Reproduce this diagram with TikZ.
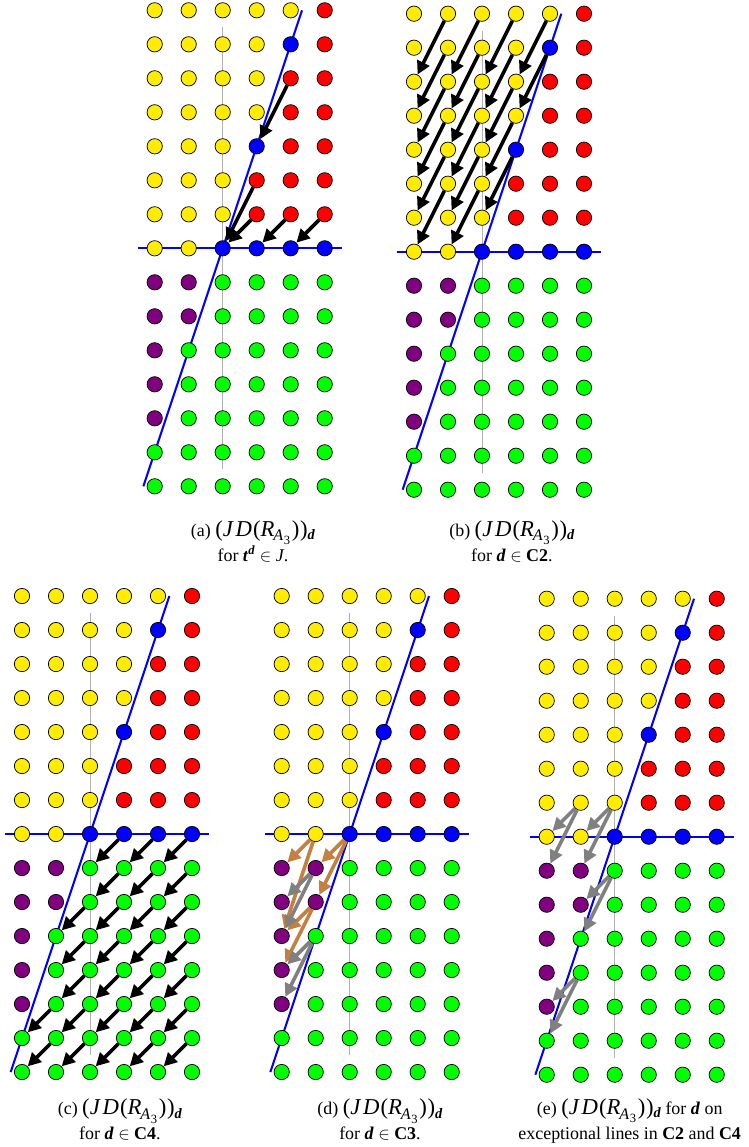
\documentclass[tikz,border=0pt]{standalone}
\usepackage{fontspec}
\setmainfont{Liberation Serif}
\usetikzlibrary{arrows.meta}

\definecolor{dotyellow}{RGB}{255,236,0}
\definecolor{dotred}{RGB}{255,0,0}
\definecolor{dotblue}{RGB}{0,0,255}
\definecolor{dotgreen}{RGB}{0,255,0}
\definecolor{dotpurple}{RGB}{128,0,128}
\definecolor{arrbrown}{RGB}{196,128,64}
\definecolor{arrgray}{RGB}{128,128,128}

\newcommand{\bid}[1]{\textbf{\textit{#1}}}
\newcommand{\jdr}{{\fontsize{19}{19}\selectfont(\textit{J}\kern1.5pt\textit{D}\kern1pt(\textit{R}\kern-1pt\raisebox{-4pt}{\fontsize{13.5}{13.5}\selectfont\textit{A}\kern0.5pt\raisebox{-3pt}{\fontsize{10.5}{10.5}\selectfont 3}}\kern1.5pt)\kern0.5pt)}\raisebox{-3pt}{\fontsize{12}{12}\selectfont\bid{d}}}

\tikzset{
  dot/.style={circle,draw=black,line width=0.6pt,minimum size=0.45cm,inner sep=0pt},
  midline/.style={gray!60,line width=0.8pt},
  blueline/.style={dotblue,line width=1.7pt},
  maparrow/.style={line width=3pt,-{Triangle[length=11pt,width=11pt]}},
  caption/.style={align=center,font=\fontsize{15}{21}\selectfont}
}

\newcommand{\latgrid}[1]{%
  \draw[midline] (0,-6.5)--(0,6.5);
  \draw[blueline] (-2.5,0)--(3.5,0);
  \draw[blueline] (-7/3,-7)--(7/3,7);
  \foreach \i in {-2,...,3}{
    \foreach \j in {-7,...,7}{
      \pgfmathtruncatemacro{\k}{3*\i-\j}
      \ifnum\j>0
        \ifnum\k>0 \def\dotcol{dotred}\else\ifnum\k=0 \def\dotcol{dotblue}\else\def\dotcol{dotyellow}\fi\fi
      \else\ifnum\j=0
        \ifnum\i<0 \def\dotcol{dotyellow}\else\def\dotcol{dotblue}\fi
      \else
        \ifnum\k<0 \def\dotcol{dotpurple}\else\def\dotcol{dotgreen}\fi
      \fi\fi
      \node[dot,fill=\dotcol] (#1\i\j) at (\i,\j) {};
    }
  }%
}

\begin{document}
\begin{tikzpicture}
\useasboundingbox (0,0) rectangle (22,-33.735);

\begin{scope}[shift={(6.55,-7.303)}]
\latgrid{a}
\foreach \s/\t in {25/13,12/00,11/00,21/10,31/20}
  \draw[maparrow] (a\s)--(a\t);
\node[caption] (capa) at (0.89,-8.61) {(a) \jdr\\ for \bid{t}\textsuperscript{\bid{d}} $\in$ \textit{J}.};
\end{scope}

\begin{scope}[shift={(14.176,-7.403)}]
\latgrid{b}
\foreach \j in {2,...,7}{
  \foreach \i in {-1,...,3}{
    \pgfmathtruncatemacro{\k}{3*\i-\j}
    \ifnum\k>0\else
      \pgfmathtruncatemacro{\ii}{\i-1}
      \pgfmathtruncatemacro{\jj}{\j-2}
      \draw[maparrow] (b\i\j)--(b\ii\jj);
    \fi
  }
}
\node[caption] (capb) at (0.88,-8.51) {(b) \jdr\\ for \bid{d} $\in$ \textbf{C2}.};
\end{scope}

\begin{scope}[shift={(2.647,-24.53)}]
\latgrid{c}
\foreach \j in {-6,...,0}{
  \foreach \i in {-1,...,3}{
    \pgfmathtruncatemacro{\k}{3*\i-\j-2}
    \ifnum\k<0\else
      \pgfmathtruncatemacro{\ii}{\i-1}
      \pgfmathtruncatemacro{\jj}{\j-1}
      \draw[maparrow] (c\i\j)--(c\ii\jj);
    \fi
  }
}
\node[caption] (capc) at (0.88,-8.4) {(c) \jdr\\ for \bid{d} $\in$ \textbf{C4}.};
\end{scope}

\begin{scope}[shift={(10.285,-24.53)}]
\latgrid{d}
\foreach \s/\t in {-10/-2-1,-10/-2-3,00/-1-1,00/-1-2,-1-2/-2-3,-1-2/-2-4}
  \draw[maparrow,arrbrown] (d\s)--(d\t);
\foreach \s/\t in {-1-1/-2-2,-1-1/-2-3,-1-3/-2-4,-1-3/-2-5}
  \draw[maparrow,arrgray] (d\s)--(d\t);
\node[caption] (capd) at (0.89,-8.4) {(d) \jdr\\ for \bid{d} $\in$ \textbf{C3}.};
\end{scope}

\begin{scope}[shift={(18.08,-24.609)}]
\latgrid{e}
\foreach \s/\t in {-11/-20,-11/-2-1,01/-10,01/-1-1,0-1/-1-2,0-1/-1-3,-1-4/-2-5,-1-4/-2-6}
  \draw[maparrow,arrgray] (e\s)--(e\t);
\node[caption] (cape) at (0.44,-8.36) {(e) \jdr{} for \bid{d} on\\ exceptional lines in \textbf{C2} and \textbf{C4}};
\end{scope}
\end{tikzpicture}
\end{document}
